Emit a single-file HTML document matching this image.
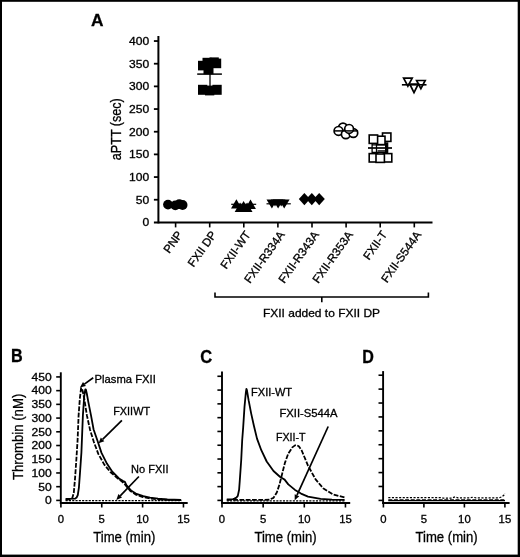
<!DOCTYPE html>
<html><head><meta charset="utf-8"><title>Figure</title>
<style>
html,body{margin:0;padding:0;background:#fff;}
body{width:520px;height:557px;overflow:hidden;}
svg{display:block;}
text{font-family:"Liberation Sans",Arial,Helvetica,sans-serif;fill:#000;stroke:#000;stroke-width:0.3px;}
.tk{font-size:10.6px;}
.tx{font-size:10.5px;}
.an{font-size:11px;}
.ax{font-size:14.2px;}
.pl{font-size:16px;font-weight:bold;fill:#000;}
.l2{stroke:#000;stroke-width:2;fill:none;}
.l15{stroke:#000;stroke-width:1.6;fill:none;}
.cv{stroke:#000;stroke-width:1.8;fill:none;stroke-linejoin:round;}
.l1{stroke:#000;stroke-width:1.2;fill:none;}
.f{fill:#000;stroke:none;}
.op{fill:#fff;stroke:#000;stroke-width:1.6;}
.on{fill:none;stroke:#000;stroke-width:1.4;}
</style></head><body>
<svg width="520" height="557" viewBox="0 0 520 557">
<rect x="0" y="0" width="520" height="557" fill="#fff"/>
<rect x="0" y="0" width="520" height="1.8" fill="#000"/><rect x="0" y="0" width="2" height="557" fill="#000"/><rect x="517.7" y="0" width="2.3" height="557" fill="#000"/><rect x="0" y="554.6" width="520" height="2.4" fill="#000"/>

<text class="pl" style="font-size:17.3px" x="91.0" y="25.5">A</text>
<path class="l2" d="M158.4 36 V223.4"/>
<path class="l2" d="M153.9 222.4 H432.5"/>
<path class="l15" d="M153.9 199.73 H158.4" style="stroke-width:1.8"/>
<path class="l15" d="M153.9 177.06 H158.4" style="stroke-width:1.8"/>
<path class="l15" d="M153.9 154.39 H158.4" style="stroke-width:1.8"/>
<path class="l15" d="M153.9 131.72 H158.4" style="stroke-width:1.8"/>
<path class="l15" d="M153.9 109.05 H158.4" style="stroke-width:1.8"/>
<path class="l15" d="M153.9 86.38 H158.4" style="stroke-width:1.8"/>
<path class="l15" d="M153.9 63.71 H158.4" style="stroke-width:1.8"/>
<path class="l15" d="M153.9 41.04 H158.4" style="stroke-width:1.8"/>
<text class="tk" x="149.3" y="226.25" text-anchor="end" textLength="6.72" lengthAdjust="spacingAndGlyphs">0</text>
<text class="tk" x="149.3" y="203.58" text-anchor="end" textLength="13.44" lengthAdjust="spacingAndGlyphs">50</text>
<text class="tk" x="149.3" y="180.91" text-anchor="end" textLength="20.16" lengthAdjust="spacingAndGlyphs">100</text>
<text class="tk" x="149.3" y="158.24" text-anchor="end" textLength="20.16" lengthAdjust="spacingAndGlyphs">150</text>
<text class="tk" x="149.3" y="135.57" text-anchor="end" textLength="20.16" lengthAdjust="spacingAndGlyphs">200</text>
<text class="tk" x="149.3" y="112.90" text-anchor="end" textLength="20.16" lengthAdjust="spacingAndGlyphs">250</text>
<text class="tk" x="149.3" y="90.23" text-anchor="end" textLength="20.16" lengthAdjust="spacingAndGlyphs">300</text>
<text class="tk" x="149.3" y="67.56" text-anchor="end" textLength="20.16" lengthAdjust="spacingAndGlyphs">350</text>
<text class="tk" x="149.3" y="44.89" text-anchor="end" textLength="20.16" lengthAdjust="spacingAndGlyphs">400</text>
<text class="ax" transform="translate(121.0,160.2) rotate(-90)" textLength="62" lengthAdjust="spacingAndGlyphs">aPTT (sec)</text>
<path class="l15" d="M175.60 222.4 V227.4"/>
<text class="an" style="font-size:11.6px" transform="translate(183.00,234.6) rotate(-54.5)" text-anchor="end">PNP</text>
<path class="l15" d="M209.70 222.4 V227.4"/>
<text class="an" style="font-size:11.6px" transform="translate(217.10,234.6) rotate(-54.5)" text-anchor="end">FXII DP</text>
<path class="l15" d="M243.80 222.4 V227.4"/>
<text class="an" style="font-size:11.6px" transform="translate(251.20,234.6) rotate(-54.5)" text-anchor="end">FXII-WT</text>
<path class="l15" d="M277.90 222.4 V227.4"/>
<text class="an" style="font-size:11.6px" transform="translate(285.30,234.6) rotate(-54.5)" text-anchor="end">FXII-R334A</text>
<path class="l15" d="M312.00 222.4 V227.4"/>
<text class="an" style="font-size:11.6px" transform="translate(319.40,234.6) rotate(-54.5)" text-anchor="end">FXII-R343A</text>
<path class="l15" d="M346.10 222.4 V227.4"/>
<text class="an" style="font-size:11.6px" transform="translate(353.50,234.6) rotate(-54.5)" text-anchor="end">FXII-R353A</text>
<path class="l15" d="M380.20 222.4 V227.4"/>
<text class="an" style="font-size:11.6px" transform="translate(387.60,234.6) rotate(-54.5)" text-anchor="end">FXII-T</text>
<path class="l15" d="M414.30 222.4 V227.4"/>
<text class="an" style="font-size:11.6px" transform="translate(421.70,234.6) rotate(-54.5)" text-anchor="end">FXII-S544A</text>
<path class="l15" d="M215 292.5 V297 H428.4 V292.5 M321.8 297 V302.3"/>
<text class="an" style="font-size:11.5px" x="263" y="316.8" textLength="117" lengthAdjust="spacingAndGlyphs">FXII added to FXII DP</text>
<circle class="f" cx="168" cy="204.6" r="4.9"/>
<circle class="f" cx="175.3" cy="205.4" r="4.9"/>
<circle class="f" cx="179.3" cy="204.2" r="4.9"/>
<circle class="f" cx="182.6" cy="205" r="4.9"/>
<rect class="f" x="198" y="60.8" width="9.3" height="9.6"/>
<rect class="f" x="202.5" y="57.8" width="9.3" height="9.3"/>
<rect class="f" x="209.5" y="57.4" width="9.3" height="9.3"/>
<rect class="f" x="212.2" y="58.6" width="9" height="9.6"/>
<rect class="f" x="203.5" y="64.8" width="10" height="9.4"/>
<rect class="f" x="198" y="84.8" width="9.3" height="10"/>
<rect class="f" x="205" y="85.6" width="9.3" height="9.8"/>
<rect class="f" x="212.4" y="84.8" width="9.3" height="10"/>
<path class="l1" style="stroke-width:1.5" d="M197.2 74.1 H221.9"/><path class="l1" style="stroke-width:1.3" d="M210 74 V86"/>
<path class="f" d="M236.4 199.2 L241.8 208.6 H231.0 Z"/>
<path class="f" d="M243.6 201.0 L249.0 210.4 H238.2 Z"/>
<path class="f" d="M250.5 199.5 L255.9 208.9 H245.1 Z"/>
<path class="f" d="M240.1 202.6 L245.5 212.0 H234.7 Z"/>
<path class="f" d="M247.1 202.6 L252.5 212.0 H241.7 Z"/>
<path class="l1" d="M231.2 204.3 H256.2"/>
<path class="f" d="M271.9 208.5 L277.30 199.40 H266.50 Z"/>
<path class="f" d="M278.1 208.5 L283.50 199.40 H272.70 Z"/>
<path class="f" d="M284.2 208.5 L289.60 199.40 H278.80 Z"/>
<path class="f" d="M275 206.6 L279.27 199.40 H270.73 Z"/>
<path class="f" d="M281.2 206.6 L285.47 199.40 H276.93 Z"/>
<path class="l1" d="M266.5 203.8 H290.8"/>
<path class="f" d="M304.4 193.1 L310.0 199.1 L304.4 205.2 L298.79999999999995 199.1 Z"/>
<path class="f" d="M311.8 193.1 L317.40000000000003 199.1 L311.8 205.2 L306.2 199.1 Z"/>
<path class="f" d="M319.2 193.1 L324.8 199.1 L319.2 205.2 L313.59999999999997 199.1 Z"/>
<circle class="op" style="stroke-width:1.7" cx="343.0" cy="127.5" r="4.4"/>
<circle class="op" style="stroke-width:1.7" cx="338.5" cy="130.9" r="4.4"/>
<circle class="op" style="stroke-width:1.7" cx="345.8" cy="134.3" r="4.4"/>
<circle class="op" style="stroke-width:1.7" cx="353.3" cy="133.0" r="4.4"/>
<circle class="op" style="stroke-width:1.7" cx="349.1" cy="128.9" r="4.4"/>
<path class="l1" style="stroke-width:1.5" d="M334.4 130.9 H358.1"/>
<rect class="op" x="382.5" y="133" width="8.4" height="8.4"/>
<rect class="op" x="376.6" y="136.2" width="8.4" height="8.4"/>
<rect class="op" x="369.2" y="135" width="8.4" height="8.4"/>
<path class="on" style="stroke-width:1.3" d="M372.1 143.6 V152.9 M376.5 144.8 V152.9 M372.1 144.8 H386 M377.6 150.9 H386 M372.1 152.4 H388"/>
<rect class="f" x="385" y="142.3" width="3.3" height="10.6"/>
<path class="l15" style="stroke-width:1.7" d="M368 148 H392"/>
<rect class="op" x="369.2" y="153.6" width="8.4" height="8.4"/>
<rect class="op" x="383.4" y="153.6" width="8.4" height="8.4"/>
<rect class="op" x="376.0" y="154.0" width="8.4" height="8.4"/>
<path class="on" style="stroke-width:1.7" d="M407.9 86.2 L412.2 78.10000000000001 H403.59999999999997 Z"/>
<path class="on" style="stroke-width:1.7" d="M414.0 92.6 L418.3 84.0 H409.7 Z"/>
<path class="on" style="stroke-width:1.7" d="M420.9 88.6 L425.2 80.5 H416.59999999999997 Z"/>
<path class="l15" d="M401.9 84.8 H426.5"/>
<path class="l2" style="stroke-width:1.9" d="M60.8 372.3 V504"/>
<path class="l2" style="stroke-width:1.9" d="M59.9 503.0 H187.7"/>
<path class="l15" d="M56.199999999999996 500.40 H60.8"/>
<text class="tk" x="51.7" y="504.25" text-anchor="end" textLength="6.72" lengthAdjust="spacingAndGlyphs">0</text>
<path class="l15" d="M56.199999999999996 486.68 H60.8"/>
<text class="tk" x="51.7" y="490.53" text-anchor="end" textLength="13.44" lengthAdjust="spacingAndGlyphs">50</text>
<path class="l15" d="M56.199999999999996 472.96 H60.8"/>
<text class="tk" x="51.7" y="476.81" text-anchor="end" textLength="20.16" lengthAdjust="spacingAndGlyphs">100</text>
<path class="l15" d="M56.199999999999996 459.24 H60.8"/>
<text class="tk" x="51.7" y="463.09" text-anchor="end" textLength="20.16" lengthAdjust="spacingAndGlyphs">150</text>
<path class="l15" d="M56.199999999999996 445.52 H60.8"/>
<text class="tk" x="51.7" y="449.37" text-anchor="end" textLength="20.16" lengthAdjust="spacingAndGlyphs">200</text>
<path class="l15" d="M56.199999999999996 431.80 H60.8"/>
<text class="tk" x="51.7" y="435.65" text-anchor="end" textLength="20.16" lengthAdjust="spacingAndGlyphs">250</text>
<path class="l15" d="M56.199999999999996 418.08 H60.8"/>
<text class="tk" x="51.7" y="421.93" text-anchor="end" textLength="20.16" lengthAdjust="spacingAndGlyphs">300</text>
<path class="l15" d="M56.199999999999996 404.36 H60.8"/>
<text class="tk" x="51.7" y="408.21" text-anchor="end" textLength="20.16" lengthAdjust="spacingAndGlyphs">350</text>
<path class="l15" d="M56.199999999999996 390.64 H60.8"/>
<text class="tk" x="51.7" y="394.49" text-anchor="end" textLength="20.16" lengthAdjust="spacingAndGlyphs">400</text>
<path class="l15" d="M56.199999999999996 376.92 H60.8"/>
<text class="tk" x="51.7" y="380.77" text-anchor="end" textLength="20.16" lengthAdjust="spacingAndGlyphs">450</text>
<path class="l15" d="M60.90 503 V507.5"/>
<text class="tx" x="60.90" y="522.5" text-anchor="middle" textLength="6.30" lengthAdjust="spacingAndGlyphs">0</text>
<path class="l15" d="M101.75 503 V507.5"/>
<text class="tx" x="101.75" y="522.5" text-anchor="middle" textLength="6.30" lengthAdjust="spacingAndGlyphs">5</text>
<path class="l15" d="M142.60 503 V507.5"/>
<text class="tx" x="142.60" y="522.5" text-anchor="middle" textLength="12.60" lengthAdjust="spacingAndGlyphs">10</text>
<path class="l15" d="M183.45 503 V507.5"/>
<text class="tx" x="183.45" y="522.5" text-anchor="middle" textLength="12.60" lengthAdjust="spacingAndGlyphs">15</text>
<text class="ax" x="93.20" y="542.4" textLength="62.2" lengthAdjust="spacingAndGlyphs">Time (min)</text>
<text class="pl" style="font-size:17.6px" x="11.1" y="362.1" textLength="11.7" lengthAdjust="spacingAndGlyphs">B</text>
<path class="l2" style="stroke-width:1.9" d="M222.0 371.4 V504"/>
<path class="l2" style="stroke-width:1.9" d="M221.1 503.0 H350.2"/>
<path class="l15" d="M217.4 500.40 H222.0"/>
<path class="l15" d="M217.4 486.61 H222.0"/>
<path class="l15" d="M217.4 472.82 H222.0"/>
<path class="l15" d="M217.4 459.03 H222.0"/>
<path class="l15" d="M217.4 445.24 H222.0"/>
<path class="l15" d="M217.4 431.45 H222.0"/>
<path class="l15" d="M217.4 417.66 H222.0"/>
<path class="l15" d="M217.4 403.87 H222.0"/>
<path class="l15" d="M217.4 390.08 H222.0"/>
<path class="l15" d="M217.4 376.29 H222.0"/>
<path class="l15" d="M222.00 503 V507.5"/>
<text class="tx" x="222.00" y="522.5" text-anchor="middle" textLength="6.30" lengthAdjust="spacingAndGlyphs">0</text>
<path class="l15" d="M263.15 503 V507.5"/>
<text class="tx" x="263.15" y="522.5" text-anchor="middle" textLength="6.30" lengthAdjust="spacingAndGlyphs">5</text>
<path class="l15" d="M304.30 503 V507.5"/>
<text class="tx" x="304.30" y="522.5" text-anchor="middle" textLength="12.60" lengthAdjust="spacingAndGlyphs">10</text>
<path class="l15" d="M345.45 503 V507.5"/>
<text class="tx" x="345.45" y="522.5" text-anchor="middle" textLength="12.60" lengthAdjust="spacingAndGlyphs">15</text>
<text class="ax" x="254.40" y="542.4" textLength="62.2" lengthAdjust="spacingAndGlyphs">Time (min)</text>
<text class="pl" style="font-size:17.6px" x="200.2" y="363.1" textLength="11.95" lengthAdjust="spacingAndGlyphs">C</text>
<path class="l2" style="stroke-width:1.9" d="M383.1 371.1 V504"/>
<path class="l2" style="stroke-width:1.9" d="M382.20000000000005 503.0 H509.6"/>
<path class="l15" d="M378.5 500.40 H383.1"/>
<path class="l15" d="M378.5 486.49 H383.1"/>
<path class="l15" d="M378.5 472.58 H383.1"/>
<path class="l15" d="M378.5 458.67 H383.1"/>
<path class="l15" d="M378.5 444.76 H383.1"/>
<path class="l15" d="M378.5 430.85 H383.1"/>
<path class="l15" d="M378.5 416.94 H383.1"/>
<path class="l15" d="M378.5 403.03 H383.1"/>
<path class="l15" d="M378.5 389.12 H383.1"/>
<path class="l15" d="M378.5 375.21 H383.1"/>
<path class="l15" d="M383.40 503 V507.5"/>
<text class="tx" x="383.40" y="522.5" text-anchor="middle" textLength="6.30" lengthAdjust="spacingAndGlyphs">0</text>
<path class="l15" d="M423.90 503 V507.5"/>
<text class="tx" x="423.90" y="522.5" text-anchor="middle" textLength="6.30" lengthAdjust="spacingAndGlyphs">5</text>
<path class="l15" d="M464.40 503 V507.5"/>
<text class="tx" x="464.40" y="522.5" text-anchor="middle" textLength="12.60" lengthAdjust="spacingAndGlyphs">10</text>
<path class="l15" d="M504.90 503 V507.5"/>
<text class="tx" x="504.90" y="522.5" text-anchor="middle" textLength="12.60" lengthAdjust="spacingAndGlyphs">15</text>
<text class="ax" x="415.50" y="542.4" textLength="62.2" lengthAdjust="spacingAndGlyphs">Time (min)</text>
<text class="pl" style="font-size:17.6px" x="362.3" y="362.9" textLength="11.6" lengthAdjust="spacingAndGlyphs">D</text>
<text class="ax" transform="translate(23.0,480.1) rotate(-90)" textLength="86.4" lengthAdjust="spacingAndGlyphs">Thrombin (nM)</text>
<path class="cv"  d="M65.6 498.8 L75.0 498.7 L76.6 497.6 L77.8 495.0 L78.9 487.7 L80.1 471.4 L81.4 452.6 L82.9 415.4 L84.2 396.5 L85.3 389.3 L85.9 389.6 L86.8 393.5 L88.3 401.9 L91.0 415.4 L93.6 429.5 L97.5 440.8 L101.5 452.9 L106.9 463.6 L112.3 471.7 L119.0 478.5 L123.1 481.1 L124.9 481.9 L126.4 485.2 L131.1 490.6 L136.5 493.9 L143.3 496.2 L150.0 497.6 L158.0 498.7 L167.3 499.5 L181.2 499.9"/>
<path class="cv" stroke-dasharray="4.8 1.5" d="M65.6 499.6 L71.0 499.4 L72.4 497.8 L73.8 492.8 L75.1 477.7 L76.4 458.8 L77.6 440.0 L78.6 415.4 L79.9 398.0 L81.1 388.0 L81.8 388.2 L82.8 391.5 L84.2 398.5 L86.9 415.4 L90.1 430.0 L93.8 441.8 L98.3 453.9 L104.3 464.6 L110.6 472.3 L117.0 477.8 L122.0 481.5 L125.3 484.9 L130.3 490.9 L136.0 494.7 L143.0 497.1 L150.0 498.4 L160.0 499.6 L181.0 500.1"/>
<path class="l1" stroke-dasharray="2.1 1.2" style="stroke-width:1.4" d="M65.6 500.6 H181.5"/>
<path d="M93.2 377.8 L84.4 384.1" stroke="#000" stroke-width="1.7" fill="none"/>
<path class="f" d="M79.9 387.4 L83.0 382.1 L85.9 386.1 Z"/>
<path d="M121.9 420.4 L102.6 439.4" stroke="#000" stroke-width="1.7" fill="none"/>
<path class="f" d="M98.6 443.3 L100.8 437.6 L104.3 441.2 Z"/>
<path d="M138.9 476.5 L120.2 495.9" stroke="#000" stroke-width="1.7" fill="none"/>
<path class="f" d="M116.3 499.9 L118.4 494.1 L122.0 497.6 Z"/>
<text class="an" x="94.6" y="382.7" textLength="61.2" lengthAdjust="spacingAndGlyphs">Plasma FXII</text>
<text class="an" x="113.2" y="415.3" textLength="36.9" lengthAdjust="spacingAndGlyphs">FXIIWT</text>
<text class="an" x="131.1" y="473.4" textLength="37.4" lengthAdjust="spacingAndGlyphs">No FXII</text>
<path class="cv"  d="M226.8 499.3 L233.0 499.1 L234.4 498.6 L236.4 497.6 L237.8 495.9 L239.1 489.8 L239.8 480.4 L241.2 460.2 L242.2 440.0 L243.2 427.1 L244.5 406.9 L245.9 392.1 L246.4 388.8 L246.9 390.0 L248.6 400.2 L251.2 413.6 L253.9 425.8 L257.0 438.6 L261.3 450.2 L266.7 461.5 L273.5 471.0 L280.2 477.0 L283.2 478.8 L284.6 479.6 L288.3 484.4 L295.0 489.9 L301.0 493.6 L308.0 496.6 L320.6 498.9 L332.0 499.6 L344.6 499.9"/>
<path class="cv" stroke-dasharray="4.8 1.5" d="M226.8 499.9 L264.0 499.9 L269.4 499.6 L273.5 497.9 L276.8 492.5 L279.5 484.4 L282.2 473.6 L284.9 462.9 L288.3 453.5 L292.3 447.4 L295.0 445.4 L296.6 445.1 L298.8 446.2 L301.7 450.5 L308.0 465.6 L315.6 479.4 L323.1 488.2 L333.2 494.5 L344.6 497.4"/>
<path class="l1" stroke-dasharray="2.1 1.2" style="stroke-width:1.4" d="M226.8 500.9 H344.6"/>
<path d="M328.2 426.5 L297.0 495.2" stroke="#000" stroke-width="1.7" fill="none"/>
<path class="f" d="M294.7 500.3 L294.7 494.2 L299.3 496.2 Z"/>
<text class="an" x="251.1" y="395.6" textLength="41" lengthAdjust="spacingAndGlyphs">FXII-WT</text>
<text class="an" x="279.4" y="417.4" textLength="58.1" lengthAdjust="spacingAndGlyphs">FXII-S544A</text>
<text class="an" x="275.9" y="440.6" textLength="29.7" lengthAdjust="spacingAndGlyphs">FXII-T</text>
<path class="l15" style="stroke-width:1.2" d="M388.3 500.7 H505"/>
<path class="l1" style="stroke-width:1.1" stroke-dasharray="4 1.6" d="M388.3 499.7 H505"/>
<path class="l1" style="stroke-width:1.25" stroke-dasharray="2.1 1.5" d="M388.3 497.6 H440 L443 498 H452 L455 496.9 L458 497.8 H470 L473 497.2 L476 497.9 H499 L502 496.7 L504 495 L505 493.4"/>
</svg></body></html>
